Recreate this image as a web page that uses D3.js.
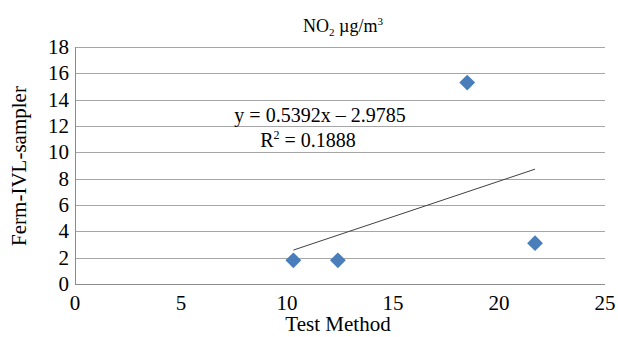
<!DOCTYPE html>
<html lang="en">
<head>
	<meta charset="UTF-8">
	<title>NO2 scatter</title>
	<style>
		body { margin: 0; background: #fff; }
		text { font-family: "Liberation Serif", "Times New Roman", serif; fill: #000; }
	</style>
</head>
<body>
	<div id="viz-wrapper"></div>

	<script src="https://cdn.jsdelivr.net/npm/d3@7"></script>
	<script type="text/javascript">
	// values
	var testMethod = [10.3, 12.4, 18.5, 21.7];
	var fermIVL = [1.8, 1.8, 15.3, 3.1];
	var xTicks = [0, 5, 10, 15, 20, 25];
	var yTicks = [0, 2, 4, 6, 8, 10, 12, 14, 16, 18];
	var slope = 0.5392, intercept = -2.9785;

	var width = 618, height = 337;
	var plotLeft = 75, plotRight = 605, plotTop = 47, plotBottom = 284;

	var svg = d3.select("#viz-wrapper").append("svg")
		.attr("width", width).attr("height", height);

	var x = d3.scaleLinear().domain([0, 25]).range([plotLeft, plotRight]);
	var y = d3.scaleLinear().domain([0, 18]).range([plotBottom, plotTop]);

	// horizontal gridlines
	svg.selectAll(".grid").data(yTicks.slice(1)).enter().append("line")
		.attr("x1", plotLeft).attr("x2", plotRight)
		.attr("y1", function(d) { return Math.round(y(d)) + 0.5; })
		.attr("y2", function(d) { return Math.round(y(d)) + 0.5; })
		.attr("stroke", "#a6a6a6");

	// axes lines
	svg.append("line").attr("x1", plotLeft + 0.5).attr("x2", plotLeft + 0.5)
		.attr("y1", plotTop).attr("y2", plotBottom).attr("stroke", "#8c8c8c");
	svg.append("line").attr("x1", plotLeft).attr("x2", plotRight)
		.attr("y1", plotBottom + 0.5).attr("y2", plotBottom + 0.5).attr("stroke", "#8c8c8c");

	// tick labels
	svg.selectAll(".ylab").data(yTicks).enter().append("text")
		.attr("x", plotLeft - 6).attr("y", function(d) { return y(d) + 7; })
		.attr("text-anchor", "end").style("font-size", "21px")
		.text(function(d) { return d; });
	svg.selectAll(".xlab").data(xTicks).enter().append("text")
		.attr("x", function(d) { return x(d); }).attr("y", plotBottom + 26)
		.attr("text-anchor", "middle").style("font-size", "21px")
		.text(function(d) { return d; });

	// trendline over data range
	var xr = d3.extent(testMethod);
	svg.append("line")
		.attr("x1", x(xr[0])).attr("y1", y(slope * xr[0] + intercept))
		.attr("x2", x(xr[1])).attr("y2", y(slope * xr[1] + intercept))
		.attr("stroke", "#404040").attr("stroke-width", 1);

	// diamond markers
	var diamond = d3.symbol().type(d3.symbolSquare).size(125);
	svg.selectAll(".pt").data(testMethod).enter().append("path")
		.attr("d", diamond)
		.attr("transform", function(d, i) {
			return "translate(" + x(d) + "," + y(fermIVL[i]) + ") rotate(45)";
		})
		.attr("fill", "#4a7ebb");

	// title
	var title = svg.append("text").attr("x", 343).attr("y", 32)
		.attr("text-anchor", "middle").style("font-size", "18px");
	title.append("tspan").text("NO");
	title.append("tspan").attr("dy", 4).style("font-size", "11px").text("2");
	title.append("tspan").attr("dy", -4).text(" \u00b5g/m");
	title.append("tspan").attr("dy", -7).style("font-size", "11px").text("3");

	// equation
	svg.append("text").attr("x", 320).attr("y", 122)
		.attr("text-anchor", "middle").style("font-size", "20px")
		.text("y = 0.5392x \u2013 2.9785");
	var r2 = svg.append("text").attr("x", 308).attr("y", 147)
		.attr("text-anchor", "middle").style("font-size", "20px");
	r2.append("tspan").text("R");
	r2.append("tspan").attr("dy", -8).style("font-size", "12px").text("2");
	r2.append("tspan").attr("dy", 8).text(" = 0.1888");

	// axis titles
	svg.append("text").attr("x", 338).attr("y", 331)
		.attr("text-anchor", "middle").style("font-size", "21px")
		.text("Test Method");
	svg.append("text")
		.attr("transform", "translate(26,166) rotate(-90)")
		.attr("text-anchor", "middle").style("font-size", "21px")
		.text("Ferm-IVL-sampler");
	</script>
</body>
</html>
